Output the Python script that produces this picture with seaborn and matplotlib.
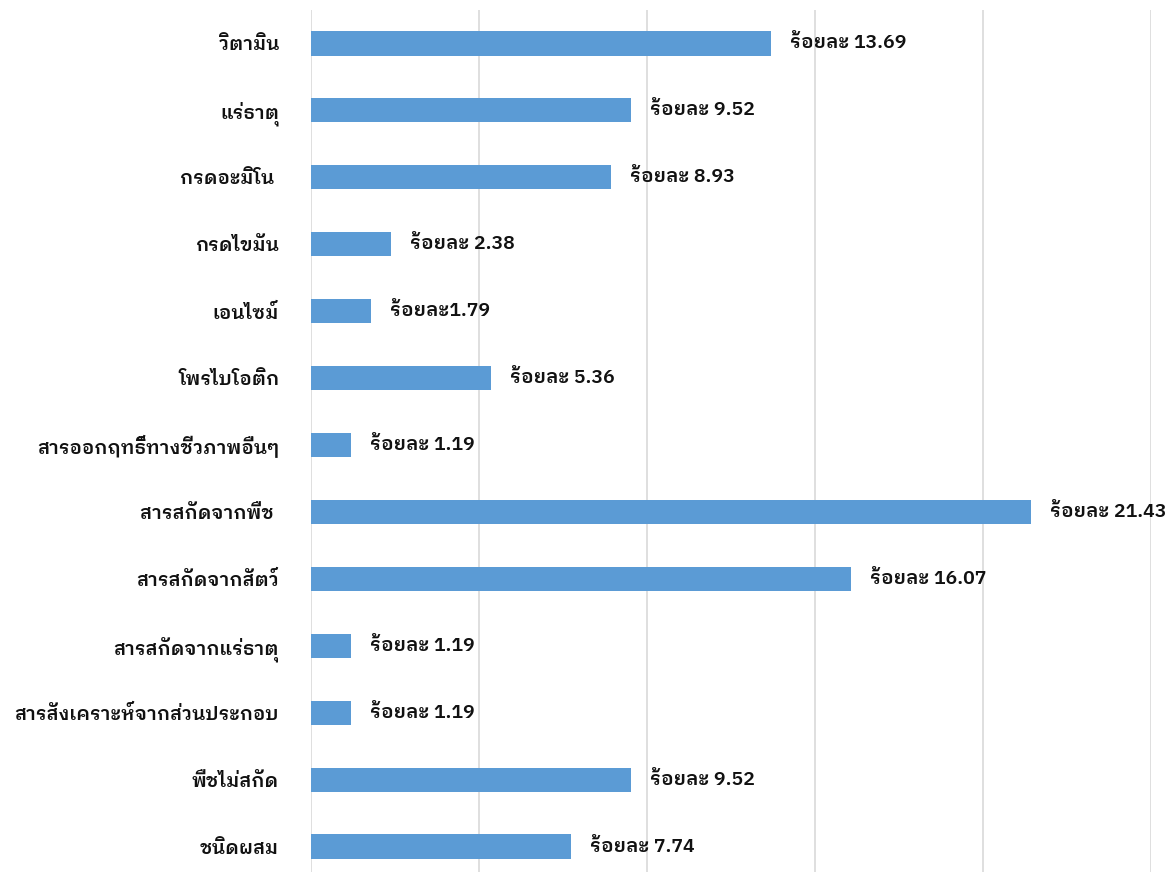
import matplotlib
matplotlib.use("Agg")
import matplotlib.pyplot as plt
import seaborn as sns
import pandas as pd

# Share of products by ingredient type (percent)
categories = [
    "วิตามิน",
    "แร่ธาตุ",
    "กรดอะมิโน ",
    "กรดไขมัน",
    "เอนไซม์",
    "โพรไบโอติก",
    "สารออกฤทธิ์ทางชีวภาพอื่นๆ",
    "สารสกัดจากพืช ",
    "สารสกัดจากสัตว์",
    "สารสกัดจากแร่ธาตุ",
    "สารสังเคราะห์จากส่วนประกอบ",
    "พืชไม่สกัด",
    "ชนิดผสม",
]
percent = [13.69, 9.52, 8.93, 2.38, 1.79, 5.36, 1.19, 21.43, 16.07, 1.19, 1.19, 9.52, 7.74]
label_prefix = ["ร้อยละ "] * 4 + ["ร้อยละ"] + ["ร้อยละ "] * 8

df = pd.DataFrame({"category": categories, "percent": percent})

sns.set_theme(style="white")
plt.rcParams["font.family"] = ["IBM Plex Sans Thai Looped", "Loma", "DejaVu Sans"]

fig = plt.figure(figsize=(11.76, 8.72), dpi=100)
ax = fig.add_axes([311 / 1176, -8 / 872, 840 / 1176, 870 / 872])

sns.barplot(data=df, x="percent", y="category", orient="h", color="#5B9BD5",
            saturation=1, width=0.36, linewidth=0, ax=ax)

ax.set_xlim(0, 25)
ax.set_ylim(12.5, -0.5)
ax.set_xticks([0, 5, 10, 15, 20, 25])
ax.set_xticklabels([])
ax.xaxis.grid(True, color="#d9d9d9", linewidth=1.2)
ax.set_axisbelow(True)
ax.set_xlabel("")
ax.set_ylabel("")
for s in ax.spines.values():
    s.set_visible(False)
ax.tick_params(axis="y", length=0, pad=23, labelsize=13.7, labelcolor="#111111")
ax.tick_params(axis="x", length=0)
for t in ax.get_yticklabels():
    t.set_fontweight("semibold")

for i, (v, p) in enumerate(zip(percent, label_prefix)):
    ax.text(v + 0.57, i, f"{p}{v:.2f}", va="center", ha="left", fontsize=14,
            fontweight="semibold", color="#111111")

fig.savefig("out.png", dpi=100)
